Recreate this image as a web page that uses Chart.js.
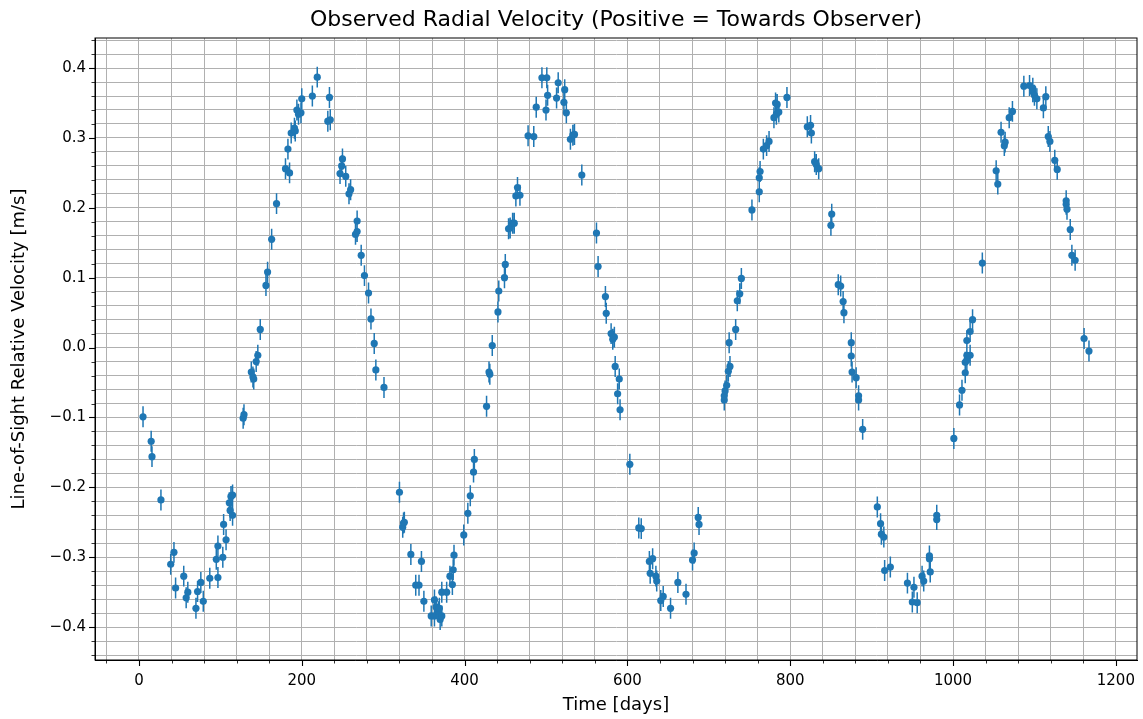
<!DOCTYPE html>
<html lang="en">
<head>
  <meta charset="UTF-8">
  <title>Observed Radial Velocity</title>
  <script src="https://cdn.jsdelivr.net/npm/chart.js"></script>
  <style>
    body { margin: 0; background: #fff; }
    canvas { display: block; }
  </style>
</head>
<body>
  <canvas id="rvChart" width="1143" height="719"></canvas>

  <script>
    const days = [
      5, 15, 16, 27, 39, 43, 45, 55, 58, 60, 70, 72, 76, 79, 87, 95, 97, 97, 103, 104,
      107, 111, 112, 113, 115, 115, 128, 129, 138, 140, 141, 144, 146, 149, 156, 158, 163, 169, 180, 183,
      185, 187, 191, 192, 194, 196, 199, 200, 213, 219, 232, 234, 235, 247, 249, 250, 254, 258, 260, 266,
      268, 268, 273, 277, 282, 285, 289, 291, 301, 320, 324, 325, 326, 334, 340, 344, 347, 350, 359, 363,
      363, 365, 368, 369, 370, 372, 372, 378, 382, 385, 386, 387, 399, 404, 407, 411, 412, 427, 430, 431,
      434, 441, 442, 449, 450, 454, 456, 459, 461, 463, 465, 468, 478, 485, 488, 495, 500, 501, 502, 513,
      515, 522, 523, 525, 530, 533, 535, 544, 562, 564, 573, 574, 580, 582, 584, 585, 588, 590, 591, 603,
      614, 617, 627, 628, 631, 635, 636, 641, 644, 653, 662, 672, 680, 682, 687, 688, 719, 719, 720, 722,
      724, 725, 726, 733, 735, 738, 740, 753, 762, 762, 763, 767, 771, 774, 780, 782, 783, 784, 786, 796,
      821, 825, 826, 830, 832, 835, 850, 851, 859, 862, 865, 866, 875, 875, 876, 881, 884, 884, 889, 907,
      911, 912, 915, 916, 923, 944, 950, 952, 956, 962, 964, 971, 971, 972, 980, 980, 1001, 1008, 1011, 1015,
      1015, 1017, 1017, 1017, 1021, 1021, 1024, 1036, 1053, 1055, 1059, 1063, 1064, 1069, 1073, 1087, 1094, 1098, 1098, 1100,
      1103, 1111, 1114, 1117, 1119, 1125, 1128, 1139, 1139, 1140, 1144, 1146, 1150, 1161, 1167
    ];
    const velocity = [
      -0.099, -0.134, -0.156, -0.218, -0.310, -0.293, -0.344, -0.327, -0.358, -0.350, -0.373, -0.349, -0.336, -0.363, -0.330, -0.303, -0.329, -0.284, -0.300, -0.253,
      -0.275, -0.222, -0.233, -0.213, -0.211, -0.240, -0.101, -0.096, -0.035, -0.042, -0.045, -0.020, -0.011, 0.026, 0.089, 0.108, 0.155, 0.206, 0.256, 0.284,
      0.250, 0.307, 0.314, 0.310, 0.340, 0.334, 0.336, 0.356, 0.360, 0.387, 0.324, 0.358, 0.326, 0.249, 0.260, 0.270, 0.245, 0.220, 0.226, 0.162,
      0.166, 0.181, 0.132, 0.103, 0.078, 0.041, 0.006, -0.032, -0.057, -0.207, -0.257, -0.251, -0.250, -0.296, -0.340, -0.340, -0.306, -0.363, -0.384, -0.361,
      -0.384, -0.371, -0.378, -0.373, -0.389, -0.384, -0.350, -0.350, -0.327, -0.339, -0.318, -0.297, -0.268, -0.237, -0.212, -0.178, -0.160, -0.084, -0.035, -0.038,
      0.003, 0.051, 0.081, 0.100, 0.119, 0.170, 0.171, 0.178, 0.178, 0.217, 0.229, 0.218, 0.303, 0.302, 0.344, 0.386, 0.340, 0.386, 0.361, 0.357,
      0.379, 0.351, 0.369, 0.336, 0.298, 0.304, 0.305, 0.247, 0.164, 0.116, 0.073, 0.049, 0.020, 0.012, 0.015, -0.027, -0.066, -0.045, -0.089, -0.167,
      -0.258, -0.259, -0.306, -0.323, -0.302, -0.327, -0.334, -0.362, -0.356, -0.373, -0.336, -0.353, -0.304, -0.294, -0.243, -0.253, -0.075, -0.069, -0.062, -0.054,
      -0.034, 0.007, -0.027, 0.026, 0.067, 0.077, 0.099, 0.197, 0.223, 0.243, 0.252, 0.284, 0.289, 0.295, 0.329, 0.350, 0.334, 0.348, 0.337, 0.358,
      0.316, 0.318, 0.307, 0.266, 0.262, 0.256, 0.175, 0.191, 0.090, 0.088, 0.066, 0.050, 0.007, -0.012, -0.035, -0.043, -0.069, -0.075, -0.117, -0.228,
      -0.252, -0.267, -0.271, -0.319, -0.314, -0.337, -0.364, -0.343, -0.365, -0.327, -0.334, -0.302, -0.298, -0.321, -0.240, -0.246, -0.130, -0.082, -0.061, -0.036,
      -0.021, -0.018, -0.011, 0.010, -0.011, 0.023, 0.040, 0.121, 0.253, 0.234, 0.308, 0.289, 0.294, 0.329, 0.338, 0.374, 0.375, 0.371, 0.366, 0.361,
      0.356, 0.343, 0.359, 0.302, 0.295, 0.268, 0.255, 0.210, 0.205, 0.198, 0.169, 0.132, 0.125, 0.013, -0.005
    ];
    const velocityErr = 0.015; // half-length of every error bar [m/s]

    // tick positions (major labelled, minor only gridlines)
    const xTicks = [];
    for (let d = -40; d <= 1200; d += 40) xTicks.push(d);
    const yTicks = [];
    for (let k = -22; k <= 22; k++) yTicks.push(k / 50);

    const blue = '#1f77b4';
    const font = 'DejaVu Sans';

    const errorBars = {
      id: 'errorBars',
      beforeDatasetsDraw(chart) {
        const { ctx, scales: { x, y } } = chart;
        ctx.save();
        ctx.strokeStyle = blue;
        ctx.lineWidth = 1.5;
        ctx.beginPath();
        days.forEach((d, i) => {
          const px = x.getPixelForValue(d);
          ctx.moveTo(px, y.getPixelForValue(velocity[i] - velocityErr));
          ctx.lineTo(px, y.getPixelForValue(velocity[i] + velocityErr));
        });
        ctx.stroke();
        ctx.restore();
      }
    };

    // frame, tick marks and title like matplotlib
    const frame = {
      id: 'frame',
      afterDraw(chart) {
        const { ctx, chartArea: a, scales: { x, y } } = chart;
        ctx.save();
        ctx.strokeStyle = '#000';
        ctx.lineWidth = 1;
        ctx.strokeRect(a.left, a.top, a.right - a.left, a.bottom - a.top);
        xTicks.forEach(v => {
          const major = v % 200 === 0;
          const px = Math.round(x.getPixelForValue(v)) + 0.5;
          ctx.lineWidth = major ? 1.1 : 0.8;
          ctx.beginPath();
          ctx.moveTo(px, a.bottom);
          ctx.lineTo(px, a.bottom + (major ? 6 : 3.5));
          ctx.stroke();
        });
        yTicks.forEach((v, k) => {
          const major = (k - 22) % 5 === 0;
          const py = Math.round(y.getPixelForValue(v)) + 0.5;
          ctx.lineWidth = major ? 1.1 : 0.8;
          ctx.beginPath();
          ctx.moveTo(a.left, py);
          ctx.lineTo(a.left - (major ? 6 : 3.5), py);
          ctx.stroke();
        });
        ctx.fillStyle = '#000';
        ctx.font = '22px "' + font + '"';
        ctx.textAlign = 'center';
        ctx.textBaseline = 'middle';
        ctx.fillText('Observed Radial Velocity (Positive = Towards Observer)', (a.left + a.right) / 2, 20);
        ctx.restore();
      }
    };

    new Chart(document.getElementById('rvChart'), {
      type: 'scatter',
      data: {
        datasets: [{
          data: days.map((d, i) => ({ x: d, y: velocity[i] })),
          backgroundColor: blue,
          borderWidth: 0,
          pointRadius: 3.6,
          pointHoverRadius: 3.6
        }]
      },
      options: {
        responsive: false,
        animation: false,
        layout: { padding: { top: 38, right: 6, left: 0, bottom: 0 } },
        plugins: {
          legend: { display: false },
          tooltip: { enabled: false }
        },
        scales: {
          x: {
            min: -54, max: 1226,
            afterBuildTicks: s => { s.ticks = xTicks.map(v => ({ value: v })); },
            afterFit: s => { s.height = 59; s.paddingLeft = 0; s.paddingRight = 0; },
            grid: { color: '#b0b0b0', lineWidth: 1, drawTicks: false },
            border: { color: '#000' },
            ticks: {
              autoSkip: false, maxRotation: 0, padding: 12,
              color: '#000', font: { family: font, size: 15 },
              callback: v => (v % 200 === 0 ? String(v) : '')
            },
            title: {
              display: true, text: 'Time [days]', color: '#000',
              font: { family: font, size: 18 }, padding: { bottom: 3 }
            }
          },
          y: {
            min: -0.447, max: 0.443,
            afterBuildTicks: s => { s.ticks = yTicks.map(v => ({ value: v })); },
            afterFit: s => { s.width = 95; s.paddingTop = 0; s.paddingBottom = 0; },
            grid: { color: '#b0b0b0', lineWidth: 1, drawTicks: false },
            border: { color: '#000' },
            ticks: {
              autoSkip: false, padding: 9,
              color: '#000', font: { family: font, size: 15 },
              callback: v => {
                const k = Math.round(v * 50);
                return k % 5 === 0 ? (k / 50).toFixed(1).replace('-', '\u2212') : '';
              }
            },
            title: {
              display: true, text: 'Line-of-Sight Relative Velocity [m/s]', color: '#000',
              font: { family: font, size: 18 }, padding: { top: 9 }
            }
          }
        }
      },
      plugins: [errorBars, frame]
    });
  </script>
</body>
</html>
